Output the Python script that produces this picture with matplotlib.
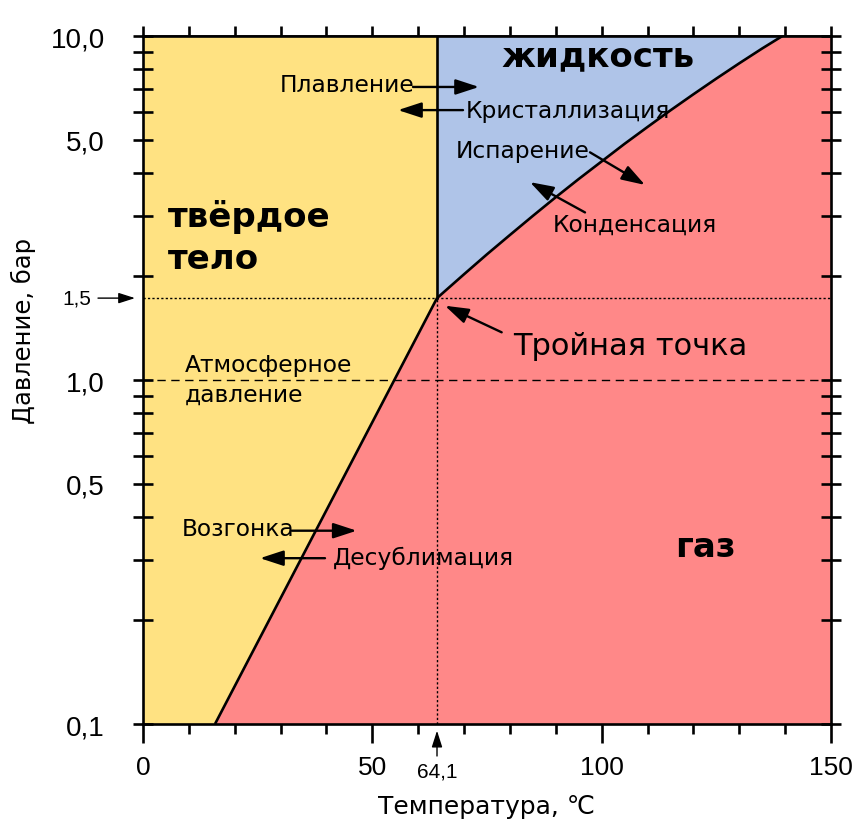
import numpy as np
import matplotlib
matplotlib.use("Agg")
import matplotlib.pyplot as plt
from matplotlib.ticker import FixedLocator, NullFormatter

plt.rcParams['font.family'] = ['DejaVu Sans']

# ---- data ----
T_min, T_max = 0, 150
p_min, p_max = 0.1, 10.0
triple_T, triple_p = 64.1, 1.73

# sublimation (solid-gas) boundary
sub_T = [15.7, triple_T]
sub_p = [0.1, triple_p]

# vaporization (liquid-gas) boundary
vap_T = [triple_T, 70, 75, 80, 85, 90, 95, 100, 105, 110, 115, 120, 125, 130, 135, 139.4]
vap_p = [triple_p, 2.03, 2.32, 2.64, 3.00, 3.40, 3.84, 4.32, 4.86, 5.44, 6.08, 6.77,
         7.52, 8.33, 9.20, 10.0]

atm_p = 1.0

x_major = [0, 50, 100, 150]
x_major_labels = ['0', '50', '100', '150']
x_minor = list(range(0, 151, 10))
y_major = [0.1, 0.5, 1.0, 5.0, 10.0]
y_major_labels = ['0,1', '0,5', '1,0', '5,0', '10,0']
y_minor = [0.2, 0.3, 0.4, 0.6, 0.7, 0.8, 0.9, 2, 3, 4, 6, 7, 8, 9]

col_solid = '#ffe282'
col_liquid = '#afc4e8'
col_gas = '#ff8888'

# ---- figure ----
fig = plt.figure(figsize=(8.52, 8.2), dpi=100)
ax = fig.add_axes([0.16784, 0.11585, 0.80751, 0.83902])
ax.set_yscale('log')
ax.set_xlim(T_min, T_max)
ax.set_ylim(p_min, p_max)

# regions
solid_x = [T_min, sub_T[0], sub_T[1], triple_T, T_min]
solid_y = [p_min, sub_p[0], sub_p[1], p_max, p_max]
ax.fill(solid_x, solid_y, color=col_solid, lw=0, zorder=1)

liq_x = list(vap_T) + [triple_T]
liq_y = list(vap_p) + [p_max]
ax.fill(liq_x, liq_y, color=col_liquid, lw=0, zorder=1)

gas_x = [sub_T[0], T_max, T_max] + list(vap_T[::-1])
gas_y = [p_min, p_min, p_max] + list(vap_p[::-1])
ax.fill(gas_x, gas_y, color=col_gas, lw=0, zorder=1)

# reference lines
ax.plot([T_min, T_max], [triple_p, triple_p], color='k', lw=1.0,
        linestyle=(0, (1.6, 1.6)), zorder=2)
ax.plot([triple_T, triple_T], [p_min, triple_p], color='k', lw=1.0,
        linestyle=(0, (1.6, 1.6)), zorder=2)
ax.plot([T_min, T_max], [atm_p, atm_p], color='k', lw=1.0,
        linestyle=(0, (6, 4)), zorder=2)

# phase boundaries
ax.plot(sub_T, sub_p, color='k', lw=1.9, zorder=3, solid_capstyle='butt')
ax.plot(vap_T, vap_p, color='k', lw=1.9, zorder=3, solid_capstyle='butt')
ax.plot([triple_T, triple_T], [triple_p, p_max], color='k', lw=1.9, zorder=3)

# spines & ticks
for s in ax.spines.values():
    s.set_linewidth(1.9)
    s.set_zorder(5)

ax.xaxis.set_major_locator(FixedLocator(x_major))
ax.set_xticklabels(x_major_labels)
ax.xaxis.set_minor_locator(FixedLocator(x_minor))
ax.tick_params(axis='x', which='major', direction='out', length=14, width=1.9,
               labelsize=19, pad=8)
ax.tick_params(axis='x', which='minor', direction='out', length=7, width=1.9)

ax.yaxis.set_major_locator(FixedLocator(y_major))
ax.set_yticklabels(y_major_labels)
ax.yaxis.set_minor_locator(FixedLocator(y_minor))
ax.yaxis.set_minor_formatter(NullFormatter())
ax.tick_params(axis='y', which='both', direction='inout', length=15, width=1.9,
               left=True, right=True, labelsize=20, pad=20)
for lab in ax.get_xticklabels() + ax.get_yticklabels():
    lab.set_fontfamily('Liberation Sans')

sec = ax.secondary_xaxis('top')
sec.set_xticks(x_minor)
sec.tick_params(direction='out', length=7, width=1.9, labeltop=False)
sec.spines['top'].set_linewidth(1.9)

# axis labels
ax.set_xlabel('Температура, ℃', fontsize=18, labelpad=11)
ax.set_ylabel('Давление, бар', fontsize=17.5)
ax.yaxis.set_label_coords(-0.155, 0.573)

# phase names
bfs = 24.5
ax.text(5.45, 3.00, 'твёрдое', fontsize=bfs, fontweight='bold', va='center', ha='left', zorder=6)
ax.text(5.45, 2.26, 'тело', fontsize=bfs, fontweight='bold', va='center', ha='left', zorder=6)
ax.text(99.2, 8.75, 'жидкость', fontsize=bfs, fontweight='bold', va='center', ha='center', zorder=6)
ax.text(122.6, 0.327, 'газ', fontsize=bfs, fontweight='bold', va='center', ha='center', zorder=6)

# process labels
fs = 16.8
ax.text(29.87, 7.25, 'Плавление', fontsize=fs, va='center', ha='left', zorder=6)
ax.text(70.36, 6.06, 'Кристаллизация', fontsize=fs, va='center', ha='left', zorder=6)
ax.text(68.18, 4.64, 'Испарение', fontsize=fs, va='center', ha='left', zorder=6)
ax.text(89.32, 2.84, 'Конденсация', fontsize=fs, va='center', ha='left', zorder=6)
ax.text(80.73, 1.258, 'Тройная точка', fontsize=22, va='center', ha='left', zorder=6)
ax.text(9.16, 1.113, 'Атмосферное', fontsize=fs, va='center', ha='left', zorder=6)
ax.text(9.16, 0.911, 'давление', fontsize=fs, va='center', ha='left', zorder=6)
ax.text(8.44, 0.3706, 'Возгонка', fontsize=fs, va='center', ha='left', zorder=6)
ax.text(41.49, 0.3052, 'Десублимация', fontsize=fs, va='center', ha='left', zorder=6)

big_arrow = dict(arrowstyle='-|>,head_length=0.55,head_width=0.18', color='k', lw=1.7,
                 mutation_scale=26, shrinkA=0, shrinkB=0)
arrows = [
    ((58.87, 7.11), (73.26, 7.11)),
    ((69.77, 6.09), (55.60, 6.09)),
    ((97.46, 4.59), (109.45, 3.69)),
    ((96.37, 3.07), (84.37, 3.76)),
    ((78.20, 1.376), (65.84, 1.644)),
    ((32.42, 0.3647), (46.59, 0.3647)),
    ((39.68, 0.3034), (25.51, 0.3034)),
]
for start, tip in arrows:
    ax.annotate('', xy=tip, xytext=start, arrowprops=big_arrow, zorder=6)

small_arrow = dict(arrowstyle='-|>,head_length=0.5,head_width=0.16', color='k', lw=1.0,
                   mutation_scale=20, shrinkA=0, shrinkB=0)
ytr = ax.get_yaxis_transform()
ax.annotate('', xy=(-0.0116, triple_p), xycoords=ytr, xytext=(-0.0654, triple_p),
            textcoords=ytr, arrowprops=small_arrow, annotation_clip=False)
ax.text(-0.0959, triple_p, '1,5', transform=ytr, fontsize=15, va='center', ha='center',
        family='Liberation Sans')
xtr = ax.get_xaxis_transform()
ax.annotate('', xy=(triple_T, -0.0097), xycoords=xtr, xytext=(triple_T, -0.0465),
            textcoords=xtr, arrowprops=small_arrow, annotation_clip=False)
ax.text(triple_T, -0.0683, '64,1', transform=xtr, fontsize=15, va='center', ha='center',
        family='Liberation Sans')

fig.savefig('out.png', dpi=100)
